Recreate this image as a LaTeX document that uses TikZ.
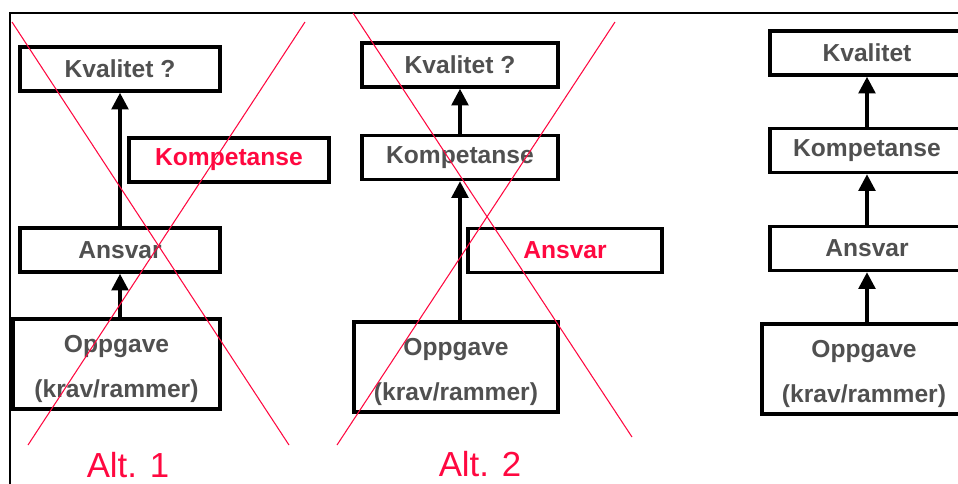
\documentclass[tikz,border=0pt]{standalone}
\usepackage{fontspec}
\setmainfont{Liberation Sans}
\usetikzlibrary{arrows.meta}
\definecolor{altred}{HTML}{FF0840}
\definecolor{boxtext}{HTML}{505050}
\begin{document}
\begin{tikzpicture}[x=0.02cm,y=-0.02cm,
  box/.style={draw,line width=2pt,inner sep=0pt,minimum width=#1*0.02cm,minimum height=0.88cm,
    text=boxtext,font=\fontsize{14}{16}\selectfont\bfseries},
  box/.default=200,
  tallbox/.style={box=#1,minimum height=1.8cm,align=center,font=\fontsize{14}{25.5}\selectfont\bfseries},
  up/.style={line width=2pt,-{Triangle[length=9.5pt,width=9.5pt]}},
  cross/.style={altred,line width=0.6pt}]
\useasboundingbox (0,0) rectangle (958,484);
\clip (0,0) rectangle (958,484);
\draw[line width=1.5pt] (10,500)--(10,13)--(970,13);
% Alt. 1
\node[box=200] (kv1) at (120,69) {Kvalitet ?};
\node[box=200,text=altred] (ko1) at (229,160) {Kompetanse};
\node[box=200] (an1) at (120,250) {Ansvar};
\node[tallbox=207] (op1) at (116.5,364) {\rule{0pt}{15pt}Oppgave\\(krav/rammer)};
\draw[up] (an1.north) -- (kv1.south);
\draw[up] (op1.north -| an1) -- (an1.south);
\draw[cross] (12,22)--(289,445);
\draw[cross] (28,445)--(305,22);
\node[altred,font=\fontsize{19.8}{22}\selectfont] (alt1) at (128,465) {Alt. 1};
% Alt. 2
\node[box=196] (kv2) at (460,65) {Kvalitet ?};
\node[box=196] (ko2) at (460,157.5) {Kompetanse};
\node[box=194,text=altred] (an2) at (565,250.5) {Ansvar};
\node[tallbox=204] (op2) at (456,367) {\rule{0pt}{15pt}Oppgave\\(krav/rammer)};
\draw[up] (ko2.north) -- (kv2.south);
\draw[up] (op2.north -| ko2) -- (ko2.south);
\draw[cross] (353,13)--(632,437);
\draw[cross] (337,445)--(615,22);
\node[altred,font=\fontsize{19.8}{22}\selectfont] (alt2) at (480,464) {Alt. 2};
% the chosen order
\node[box=194] (kv3) at (867,53) {Kvalitet};
\node[box=194] (ko3) at (867,150.5) {Kompetanse};
\node[box=194] (an3) at (867,248.5) {Ansvar};
\node[tallbox=204] (op3) at (864,369) {\rule{0pt}{15pt}Oppgave\\(krav/rammer)};
\draw[up] (ko3.north) -- (kv3.south);
\draw[up] (an3.north) -- (ko3.south);
\draw[up] (op3.north -| an3) -- (an3.south);
\end{tikzpicture}
\end{document}
